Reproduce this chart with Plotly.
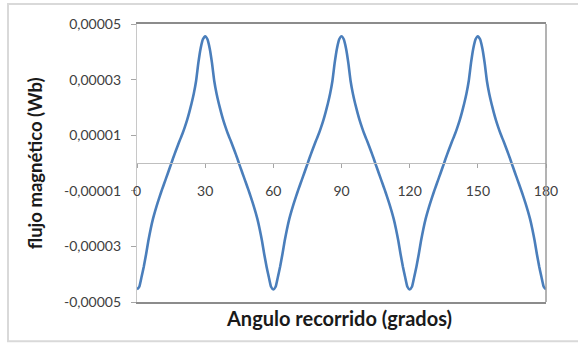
import plotly.graph_objects as go

# Angle (degrees), 1-degree steps
angulo = list(range(0, 181))

# Magnetic flux, in units of 1e-5 Wb (one value per degree)
flujo_e5 = [
    -4.55, -4.45, -4.10, -3.72, -3.28, -2.80, -2.38, -2.02, -1.72, -1.45,
    -1.20, -0.96, -0.73, -0.50, -0.27, -0.04, 0.20, 0.42, 0.64, 0.85,
    1.05, 1.28, 1.53, 1.82, 2.14, 2.50, 2.95, 3.60, 4.12, 4.45,
    4.56, 4.45, 4.12, 3.60, 2.95, 2.50, 2.14, 1.82, 1.53, 1.28,
    1.05, 0.85, 0.64, 0.42, 0.20, -0.04, -0.27, -0.50, -0.73, -0.96,
    -1.20, -1.45, -1.72, -2.02, -2.38, -2.80, -3.28, -3.72, -4.10, -4.45,
    -4.55, -4.45, -4.10, -3.72, -3.28, -2.80, -2.38, -2.02, -1.72, -1.45,
    -1.20, -0.96, -0.73, -0.50, -0.27, -0.04, 0.20, 0.42, 0.64, 0.85,
    1.05, 1.28, 1.53, 1.82, 2.14, 2.50, 2.95, 3.60, 4.12, 4.45,
    4.56, 4.45, 4.12, 3.60, 2.95, 2.50, 2.14, 1.82, 1.53, 1.28,
    1.05, 0.85, 0.64, 0.42, 0.20, -0.04, -0.27, -0.50, -0.73, -0.96,
    -1.20, -1.45, -1.72, -2.02, -2.38, -2.80, -3.28, -3.72, -4.10, -4.45,
    -4.55, -4.45, -4.10, -3.72, -3.28, -2.80, -2.38, -2.02, -1.72, -1.45,
    -1.20, -0.96, -0.73, -0.50, -0.27, -0.04, 0.20, 0.42, 0.64, 0.85,
    1.05, 1.28, 1.53, 1.82, 2.14, 2.50, 2.95, 3.60, 4.12, 4.45,
    4.56, 4.45, 4.12, 3.60, 2.95, 2.50, 2.14, 1.82, 1.53, 1.28,
    1.05, 0.85, 0.64, 0.42, 0.20, -0.04, -0.27, -0.50, -0.73, -0.96,
    -1.20, -1.45, -1.72, -2.02, -2.38, -2.80, -3.28, -3.72, -4.10, -4.45,
    -4.55,
]
flujo = [v * 1e-5 for v in flujo_e5]

x_ticks = [0, 30, 60, 90, 120, 150, 180]
x_ticklabels = ["0", "30", "60", "90", "120", "150", "180"]
y_ticks = [0.00005, 0.00003, 0.00001, -0.00001, -0.00003, -0.00005]
y_ticklabels = ["0,00005", "0,00003", "0,00001", "-0,00001", "-0,00003", "-0,00005"]

FONT = "Lato"
TICKCOL = "#404040"

fig = go.Figure()
fig.add_trace(go.Scatter(
    x=angulo, y=flujo, mode="lines",
    line=dict(color="#4a7ebb", width=2.6, shape="spline", smoothing=0.5),
    hoverinfo="skip", showlegend=False,
))
# same curve on the crossing axis so that axis is drawn
fig.add_trace(go.Scatter(
    x=angulo, y=flujo, mode="lines", xaxis="x2",
    line=dict(color="rgba(0,0,0,0)", width=0),
    hoverinfo="skip", showlegend=False,
))

fig.update_layout(
    width=578, height=343,
    margin=dict(l=137, r=32, t=24, b=41),
    paper_bgcolor="white", plot_bgcolor="white",
    font=dict(family=FONT, color=TICKCOL),
    xaxis=dict(
        range=[0, 180], showgrid=False, zeroline=False,
        showticklabels=False, ticks="",
        showline=True, linecolor="#8c8c8c", linewidth=1.5, mirror=True,
    ),
    xaxis2=dict(
        range=[0, 180], overlaying="x", anchor="free", position=0.5,
        side="bottom", showgrid=False, zeroline=False,
        tickvals=x_ticks, ticktext=x_ticklabels,
        ticks="outside", ticklen=4, tickcolor="#a6a6a6", tickwidth=1,
        ticklabelstandoff=11,
        showline=True, linecolor="#bfbfbf", linewidth=1.2,
        tickfont=dict(family=FONT, size=14, color=TICKCOL),
    ),
    yaxis=dict(
        range=[-0.00005, 0.00005], showgrid=False, zeroline=False,
        tickvals=y_ticks, ticktext=y_ticklabels,
        ticks="outside", ticklen=5, tickcolor="#a6a6a6", tickwidth=1,
        ticklabelstandoff=7,
        showline=True, linecolor="#c8c8c8", linewidth=1.2,
        tickfont=dict(family=FONT, size=14, color=TICKCOL),
    ),
    shapes=[
        dict(type="line", xref="x domain", yref="y domain", x0=1, x1=1, y0=0, y1=1,
             line=dict(color="#9a9a9a", width=1.5)),
        dict(type="rect", xref="paper", yref="paper",
             x0=-0.3154, x1=1.083, y0=-0.1415, y1=1.072,
             line=dict(color="#d9d9d9", width=2)),
    ],
    annotations=[
        dict(text="<b>flujo magnético (Wb)</b>", xref="paper", yref="paper",
             x=-0.249, y=0.5, xanchor="center", yanchor="middle", textangle=-90,
             showarrow=False, font=dict(family=FONT, size=18.5, color="#1a1a1a")),
        dict(text="<b>Angulo recorrido (grados)</b>", xref="paper", yref="paper",
             x=0.494, y=-0.057, xanchor="center", yanchor="middle",
             showarrow=False, font=dict(family=FONT, size=20, color="#1a1a1a")),
    ],
)

fig.write_html("out.html", config={"displayModeBar": False},
               post_script="document.body.style.margin='0px';")
